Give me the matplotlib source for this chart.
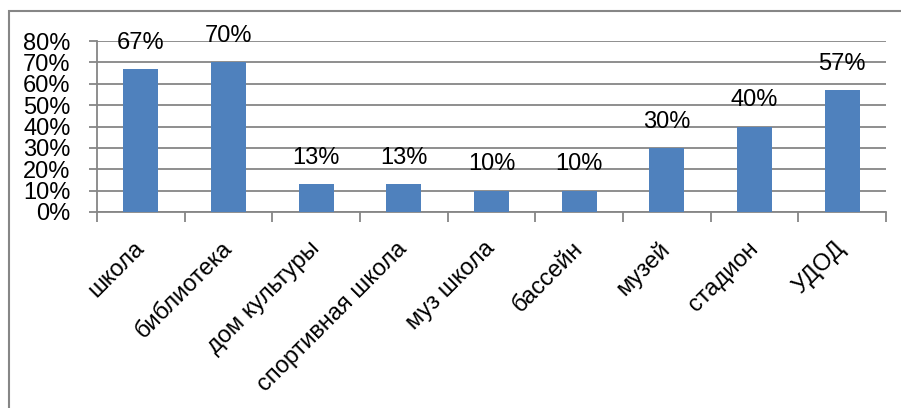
import matplotlib.pyplot as plt
from matplotlib.patches import Rectangle

plt.rcParams['font.family'] = ['Liberation Sans', 'DejaVu Sans']

categories = ["школа", "библиотека", "дом культуры", "спортивная школа", "муз школа",
              "бассейн", "музей", "стадион", "УДОД"]
values = [67, 70, 13, 13, 10, 10, 30, 40, 57]
yticks = [0, 10, 20, 30, 40, 50, 60, 70, 80]

grey = "#868686"
fig = plt.figure(figsize=(9.01, 4.08), dpi=100)
ax = fig.add_axes([0.1077, 0.4804, 0.8757, 0.4191])

x = list(range(len(categories)))
bars = ax.bar(x, values, width=0.4, color="#4F81BD", zorder=3)
for b, v in zip(bars, values):
    ax.annotate(f"{v}%", (b.get_x() + b.get_width() / 2, v), xytext=(0, 11),
                textcoords="offset points", ha="center", va="bottom", fontsize=17)

ax.set_xlim(-0.5, len(categories) - 0.5)
ax.set_ylim(0, 80)
ax.set_yticks(yticks)
ax.set_yticklabels([f"{t}%" for t in yticks])
ax.yaxis.grid(True, color=grey, linewidth=1.3, zorder=0)
ax.tick_params(axis="y", length=6, width=1.3, color=grey, labelsize=17, pad=13)

ax.set_xticks([i - 0.5 for i in range(len(categories) + 1)])
ax.set_xticklabels([])
ax.tick_params(axis="x", length=7, width=1.3, color=grey)
ax.set_xticks(x, minor=True)
ax.set_xticklabels(categories, minor=True, rotation=45, ha="right", va="center",
                   rotation_mode="anchor", fontsize=17)
ax.tick_params(axis="x", which="minor", length=0, pad=24)

for s in ["top", "right"]:
    ax.spines[s].set_visible(False)
for s in ["left", "bottom"]:
    ax.spines[s].set_color(grey)
    ax.spines[s].set_linewidth(1.3)

fig.patches.append(Rectangle((9 / 901, -0.1), 1.2, 1.1 - 11 / 408, transform=fig.transFigure,
                             fill=False, edgecolor=grey, linewidth=1.5))

fig.savefig("out.png", dpi=100)
